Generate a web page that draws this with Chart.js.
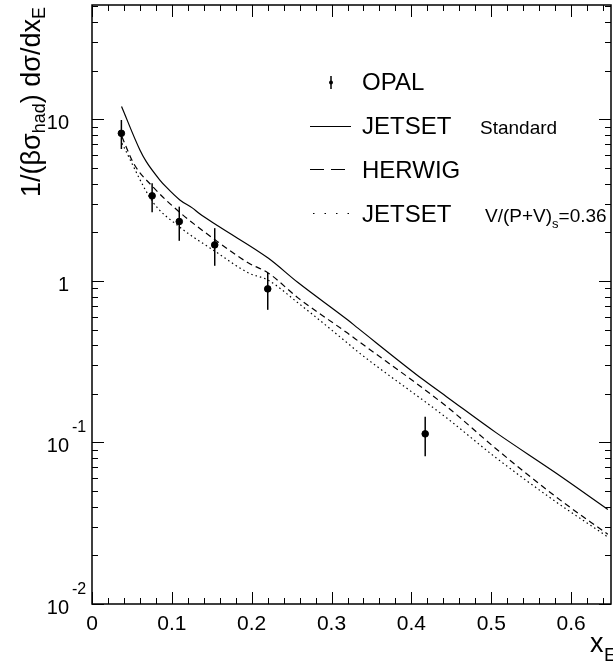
<!DOCTYPE html>
<html lang="en">
<head>
    <meta charset="UTF-8">
    <title>OPAL xE spectrum</title>
    <script src="https://cdn.jsdelivr.net/npm/chart.js"></script>
    <style>
        * {
            margin: 0;
            padding: 0;
        }

        body {
            background-color: #fff;
            overflow: hidden;
            width: 613px;
            height: 662px;
        }

        canvas {
            position: absolute;
            left: 0;
            top: 0;
        }
    </style>
</head>
<body>
    <canvas id="myChart" width="616" height="662"></canvas>

    <script>
        // OPAL measurement with error bars
        const opalX = [0.0368, 0.0753, 0.1093, 0.1537, 0.2201, 0.4173];
        const opalY = [8.19, 3.36, 2.33, 1.67, 0.892, 0.113];
        const opalHi = [9.90, 4.02, 2.88, 2.12, 1.12, 0.144];
        const opalLo = [6.55, 2.66, 1.77, 1.24, 0.662, 0.082];

        // JETSET standard (solid)
        const jetsetX = [0.037, 0.060, 0.068, 0.085, 0.0925, 0.110, 0.126, 0.134, 0.159, 0.221, 0.258, 0.320, 0.333, 0.415, 0.444, 0.506, 0.581, 0.646];
        const jetsetY = [12.0, 6.46, 5.47, 4.21, 3.83, 3.17, 2.82, 2.62, 2.17, 1.38, 0.976, 0.574, 0.51, 0.244, 0.192, 0.115, 0.0647, 0.0385];

        // HERWIG (dashed)
        const herwigX = [0.0375, 0.052, 0.076, 0.109, 0.1545, 0.196, 0.2206, 0.258, 0.320, 0.333, 0.444, 0.506, 0.581, 0.646];
        const herwigY = [7.8, 5.35, 3.83, 2.68, 1.79, 1.29, 1.12, 0.785, 0.475, 0.426, 0.167, 0.0914, 0.0461, 0.027];

        // JETSET V/(P+V)s = 0.36 (dotted)
        const jetsetVX = [0.0375, 0.076, 0.109, 0.1545, 0.196, 0.2206, 0.258, 0.320, 0.333, 0.444, 0.506, 0.581, 0.646];
        const jetsetVY = [7.1, 3.09, 2.17, 1.52, 1.12, 1.01, 0.731, 0.412, 0.364, 0.142, 0.0804, 0.0429, 0.026];

        // axis ticks
        const xTickValues = [0, 0.1, 0.2, 0.3, 0.4, 0.5, 0.6];
        const xTickLabels = ['0', '0.1', '0.2', '0.3', '0.4', '0.5', '0.6'];
        const yTickValues = [0.01, 0.1, 1, 10];
        const yTickBase = ['10', '10', '1', '10'];
        const yTickExp = ['-2', '-1', '', ''];

        const FONT = '"Liberation Sans", Arial, Helvetica, sans-serif';

        function toPoints(xs, ys) {
            return xs.map((x, i) => ({ x: x, y: ys[i] }));
        }

        const frameAndText = {
            id: 'frameAndText',
            beforeDatasetsDraw(chart) {
                const ctx = chart.ctx;
                const xs = chart.scales.x;
                const ys = chart.scales.y;
                ctx.save();
                ctx.strokeStyle = '#000';
                ctx.lineWidth = 1.5;
                for (let i = 0; i < opalX.length; i++) {
                    const px = xs.getPixelForValue(opalX[i]);
                    ctx.beginPath();
                    ctx.moveTo(px, ys.getPixelForValue(opalHi[i]));
                    ctx.lineTo(px, ys.getPixelForValue(opalLo[i]));
                    ctx.stroke();
                }
                ctx.restore();
            },
            afterDraw(chart) {
                const ctx = chart.ctx;
                const area = chart.chartArea;
                const xs = chart.scales.x;
                const ys = chart.scales.y;
                ctx.save();
                ctx.strokeStyle = '#000';
                ctx.fillStyle = '#000';

                // frame
                ctx.lineWidth = 1.5;
                ctx.beginPath();
                ctx.moveTo(area.left, area.top);
                ctx.lineTo(area.right, area.top);
                ctx.lineTo(area.right, area.bottom);
                ctx.lineTo(area.left, area.bottom);
                ctx.closePath();
                ctx.stroke();

                // x ticks, bottom and top, pointing inward
                ctx.lineWidth = 1;
                for (let k = 0; k <= 32; k++) {
                    const v = k * 0.02;
                    const px = Math.round(xs.getPixelForValue(v)) + 0.5;
                    const len = (k % 5 === 0) ? 12 : 6;
                    ctx.beginPath();
                    ctx.moveTo(px, area.bottom);
                    ctx.lineTo(px, area.bottom - len);
                    ctx.moveTo(px, area.top);
                    ctx.lineTo(px, area.top + len);
                    ctx.stroke();
                }

                // y ticks, left and right
                for (let d = -2; d <= 1; d++) {
                    for (let m = 1; m <= 9; m++) {
                        const v = m * Math.pow(10, d);
                        if (v > ys.max) continue;
                        const py = Math.round(ys.getPixelForValue(v)) + 0.5;
                        const len = (m === 1) ? 12 : 6;
                        ctx.beginPath();
                        ctx.moveTo(area.left, py);
                        ctx.lineTo(area.left + len, py);
                        ctx.moveTo(area.right, py);
                        ctx.lineTo(area.right - len, py);
                        ctx.stroke();
                    }
                }

                // x tick labels
                ctx.font = '21px ' + FONT;
                ctx.textAlign = 'center';
                ctx.textBaseline = 'alphabetic';
                xTickValues.forEach((v, i) => {
                    ctx.fillText(xTickLabels[i], xs.getPixelForValue(v), 630);
                });

                // y tick labels
                yTickValues.forEach((v, i) => {
                    const py = ys.getPixelForValue(v);
                    ctx.font = '20px ' + FONT;
                    ctx.textAlign = 'right';
                    ctx.fillText(yTickBase[i], 69, py + 10);
                    if (yTickExp[i]) {
                        ctx.font = '16px ' + FONT;
                        ctx.textAlign = 'left';
                        ctx.fillText(yTickExp[i], 72, py - 10);
                    }
                });

                // x axis title
                ctx.textAlign = 'left';
                ctx.font = '27px ' + FONT;
                ctx.fillText('x', 590, 652);
                ctx.font = '19px ' + FONT;
                ctx.fillText('E', 604, 661);

                // y axis title, rotated
                ctx.save();
                ctx.translate(40, 197);
                ctx.rotate(-Math.PI / 2);
                const parts = [
                    ['1/(\u03b2\u03c3', 27, 0],
                    ['had', 18, 5],
                    [') d\u03c3/dx', 27, 0],
                    ['E', 18, 5]
                ];
                let tx = 0;
                parts.forEach(p => {
                    ctx.font = p[1] + 'px ' + FONT;
                    ctx.fillText(p[0], tx, p[2]);
                    tx += ctx.measureText(p[0]).width;
                });
                ctx.restore();

                // legend
                ctx.lineWidth = 1.5;
                ctx.beginPath();
                ctx.moveTo(331, 76);
                ctx.lineTo(331, 89);
                ctx.stroke();
                ctx.beginPath();
                ctx.arc(331, 82.5, 2, 0, Math.PI * 2);
                ctx.fill();

                ctx.lineWidth = 1;
                ctx.beginPath();
                ctx.moveTo(310, 126.5);
                ctx.lineTo(351, 126.5);
                ctx.stroke();

                ctx.setLineDash([14, 7]);
                ctx.beginPath();
                ctx.moveTo(310, 169.5);
                ctx.lineTo(352, 169.5);
                ctx.stroke();

                ctx.setLineDash([1.5, 10]);
                ctx.beginPath();
                ctx.moveTo(313, 213.5);
                ctx.lineTo(352, 213.5);
                ctx.stroke();
                ctx.setLineDash([]);

                ctx.font = '24px ' + FONT;
                ctx.fillText('OPAL', 362, 90);
                ctx.fillText('JETSET', 362, 134);
                ctx.fillText('HERWIG', 362, 178);
                ctx.fillText('JETSET', 362, 222);

                ctx.font = '19px ' + FONT;
                ctx.fillText('Standard', 480, 134);
                const vText = 'V/(P+V)';
                ctx.fillText(vText, 485, 222);
                let vx = 485 + ctx.measureText(vText).width;
                ctx.font = '13px ' + FONT;
                ctx.fillText('s', vx, 228);
                vx += ctx.measureText('s').width;
                ctx.font = '19px ' + FONT;
                ctx.fillText('=0.36', vx, 222);

                ctx.restore();
            }
        };

        const config = {
            type: 'scatter',
            data: {
                datasets: [
                    {
                        label: 'OPAL',
                        data: toPoints(opalX, opalY),
                        pointRadius: 3.3,
                        pointBackgroundColor: '#000',
                        pointBorderColor: '#000',
                        showLine: false
                    },
                    {
                        label: 'JETSET Standard',
                        data: toPoints(jetsetX, jetsetY),
                        showLine: true,
                        borderColor: '#000',
                        borderWidth: 1.2,
                        pointRadius: 0,
                        cubicInterpolationMode: 'monotone'
                    },
                    {
                        label: 'HERWIG',
                        data: toPoints(herwigX, herwigY),
                        showLine: true,
                        borderColor: '#000',
                        borderWidth: 1.2,
                        borderDash: [6, 4],
                        pointRadius: 0,
                        cubicInterpolationMode: 'monotone'
                    },
                    {
                        label: 'JETSET V/(P+V)s=0.36',
                        data: toPoints(jetsetVX, jetsetVY),
                        showLine: true,
                        borderColor: '#000',
                        borderWidth: 1.2,
                        borderDash: [1.5, 3],
                        pointRadius: 0,
                        cubicInterpolationMode: 'monotone'
                    }
                ]
            },
            options: {
                responsive: false,
                animation: false,
                devicePixelRatio: 1,
                events: [],
                layout: {
                    padding: { left: 92, top: 5, right: 0, bottom: 58 }
                },
                plugins: {
                    legend: { display: false },
                    tooltip: { enabled: false }
                },
                scales: {
                    x: {
                        type: 'linear',
                        min: 0,
                        max: 0.65,
                        display: false
                    },
                    y: {
                        type: 'logarithmic',
                        min: 0.01,
                        max: 51,
                        display: false
                    }
                }
            },
            plugins: [frameAndText]
        };

        const ctx = document.getElementById('myChart');
        new Chart(ctx, config);
    </script>
</body>
</html>
